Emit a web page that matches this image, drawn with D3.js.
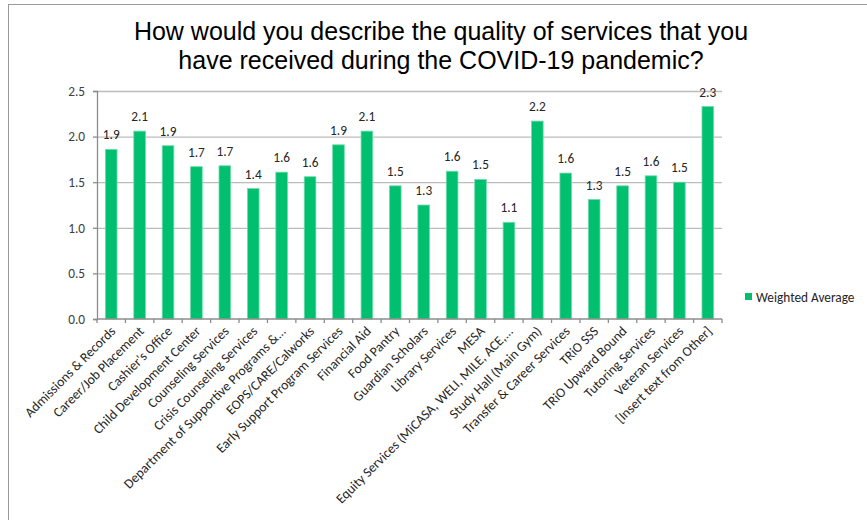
<!DOCTYPE html>
<html>
<head>
<meta charset="utf-8">
<script src="https://cdn.jsdelivr.net/npm/d3@7"></script>
<style>
  html, body { margin: 0; padding: 0; background: #fff; }
  svg { display: block; }
</style>
</head>
<body>
<svg id="chart" width="867" height="520"></svg>
<script>
// Survey services and their weighted average quality rating
const categories = [
  "Admissions & Records",
  "Career/Job Placement",
  "Cashier's Office",
  "Child Development Center",
  "Counseling Services",
  "Crisis Counseling Services",
  "Department of Supportive Programs &...",
  "EOPS/CARE/Calworks",
  "Early Support Program Services",
  "Financial Aid",
  "Food Pantry",
  "Guardian Scholars",
  "Library Services",
  "MESA",
  "Equity Services (MiCASA, WELI, MILE, ACE,...",
  "Study Hall (Main Gym)",
  "Transfer & Career Services",
  "TRiO SSS",
  "TRiO Upward Bound",
  "Tutoring Services",
  "Veteran Services",
  "[Insert text from Other]"
];
const weightedAverage = [
  1.86, 2.06, 1.90, 1.67, 1.68, 1.43, 1.61, 1.56, 1.91, 2.06, 1.46,
  1.25, 1.62, 1.53, 1.06, 2.17, 1.60, 1.31, 1.46, 1.57, 1.50, 2.33
];
const yTicks = [0, 0.5, 1.0, 1.5, 2.0, 2.5];
const seriesName = "Weighted Average";
const titleLines = [
  "How would you describe the quality of services that you",
  "have received during the COVID-19 pandemic?"
];

const data = categories.map((c, i) => ({ category: c, value: weightedAverage[i] }));

const svg = d3.select("#chart");
const labelFont = "Carlito, Calibri, Lato, 'Open Sans', sans-serif";
const green = "#00bf6f";

// outer chart frame
svg.append("rect")
  .attr("x", 8.5).attr("y", 4.5)
  .attr("width", 900).attr("height", 560)
  .attr("fill", "none")
  .attr("stroke", "#9a9a9a")
  .attr("stroke-width", 1);

// plot area
const plot = { left: 97, right: 722, top: 91, bottom: 319 };

const x = d3.scaleBand()
  .domain(categories)
  .range([plot.left, plot.right])
  .paddingInner(0.59)
  .paddingOuter(0.295);

const xCells = d3.scaleBand()
  .domain(categories)
  .range([plot.left, plot.right])
  .padding(0);

const y = d3.scaleLinear()
  .domain([0, 2.5])
  .range([plot.bottom, plot.top]);

// horizontal gridlines
svg.append("g")
  .attr("transform", `translate(${plot.left},0)`)
  .call(d3.axisLeft(y).tickValues(yTicks.filter(v => v > 0)).tickSize(-(plot.right - plot.left)).tickFormat(""))
  .call(g => g.select(".domain").remove())
  .call(g => g.selectAll("line").attr("stroke", "#bcbcbc").attr("stroke-width", 1.3));

// y axis
svg.append("g")
  .attr("transform", `translate(${plot.left},0)`)
  .call(d3.axisLeft(y).tickValues(yTicks).tickFormat(d3.format(".1f")).tickSize(4).tickPadding(8))
  .call(g => g.select(".domain").attr("stroke", "#8c8c8c").attr("stroke-width", 1.3))
  .call(g => g.selectAll("line").attr("stroke", "#8c8c8c").attr("stroke-width", 1.3))
  .call(g => g.selectAll("text")
    .attr("font-family", labelFont)
    .attr("font-size", 13.3)
    .attr("fill", "#404040"));

// bars
svg.append("g")
  .selectAll("rect")
  .data(data)
  .join("rect")
  .attr("x", d => x(d.category))
  .attr("width", x.bandwidth())
  .attr("y", d => y(d.value))
  .attr("height", d => y(0) - y(d.value))
  .attr("fill", green)
  .attr("stroke", "#6fdcab")
  .attr("stroke-width", 0.8);

// value labels
svg.append("g")
  .selectAll("text")
  .data(data)
  .join("text")
  .attr("x", d => x(d.category) + x.bandwidth() / 2)
  .attr("y", d => y(d.value) - 10)
  .attr("text-anchor", "middle")
  .attr("font-family", labelFont)
  .attr("font-size", 13.3)
  .attr("fill", "#262626")
  .text(d => d3.format(".1f")(d.value));

// x axis line and cell boundary ticks
const xAxis = svg.append("g");
xAxis.append("line")
  .attr("x1", plot.left).attr("x2", plot.right)
  .attr("y1", y(0)).attr("y2", y(0))
  .attr("stroke", "#8c8c8c").attr("stroke-width", 1.3);
const boundaries = categories.map(c => xCells(c)).concat([xCells.range()[1]]);
xAxis.selectAll("line.tick")
  .data(boundaries)
  .join("line")
  .attr("class", "tick")
  .attr("x1", d => d).attr("x2", d => d)
  .attr("y1", y(0)).attr("y2", y(0) + 4)
  .attr("stroke", "#8c8c8c").attr("stroke-width", 1.3);

// rotated category labels
xAxis.selectAll("text")
  .data(categories)
  .join("text")
  .attr("transform", c => `translate(${xCells(c) + xCells.bandwidth() / 2 + 5},${y(0) + 13}) rotate(-45)`)
  .attr("text-anchor", "end")
  .attr("font-family", labelFont)
  .attr("font-size", 13.6)
  .attr("fill", "#262626")
  .text(c => c);

// title
svg.append("g")
  .selectAll("text")
  .data(titleLines)
  .join("text")
  .attr("x", 441)
  .attr("y", (d, i) => 40 + i * 29)
  .attr("text-anchor", "middle")
  .attr("font-family", "'Liberation Sans', Arial, sans-serif")
  .attr("font-size", 25)
  .attr("fill", "#000")
  .text(d => d);

// legend
const legend = svg.append("g").attr("transform", "translate(745,293)");
legend.append("rect")
  .attr("width", 7).attr("height", 7)
  .attr("fill", green);
legend.append("text")
  .attr("x", 11).attr("y", 8.5)
  .attr("font-family", labelFont)
  .attr("font-size", 13.3)
  .attr("fill", "#262626")
  .text(seriesName);
</script>
</body>
</html>
